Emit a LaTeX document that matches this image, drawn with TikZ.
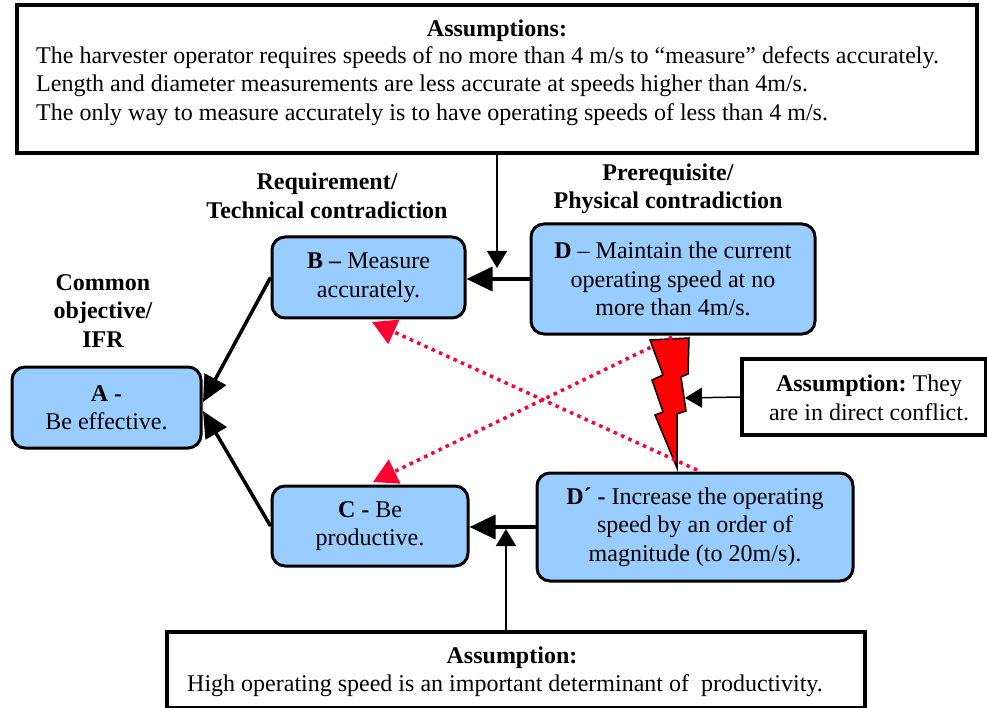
\documentclass[tikz,border=0pt]{standalone}
\usepackage{fontspec}
\setmainfont{Liberation Serif}
\usetikzlibrary{arrows.meta,calc}
\definecolor{boxblue}{HTML}{99CCFF}
\definecolor{dotred}{HTML}{FF0033}
\newcommand{\myfs}{\fontsize{24}{28.5}\selectfont}
\tikzset{
  cloud/.style={draw=black, line width=3pt, rounded corners=13pt, fill=boxblue, align=center, inner sep=0pt},
  plainbox/.style={draw=black, line width=3.5pt, fill=white, inner sep=0pt},
  lbl/.style={align=center, font=\myfs\bfseries, inner sep=0pt},
  bigarrow/.style={line width=3.5pt, -{Triangle[length=26pt,width=24pt]}},
  thinarrow/.style={line width=1.5pt, -{Triangle[length=17pt,width=20pt]}},
  dotarrow/.style={dotred, line width=3.5pt, dash pattern=on 3.5pt off 4.5pt, -{Triangle[length=24pt,width=26pt]}},
}
\begin{document}
\begin{tikzpicture}[x=1pt,y=-1pt, every node/.style={font=\myfs}]
\useasboundingbox (0,0) rectangle (987,708);
% top assumptions box
\node[plainbox, minimum width=960pt, minimum height=148pt] (top) at (497,79) {};
\node[inner sep=0pt, font=\myfs\bfseries] (toptitle) at (497,31) {Assumptions:};
\node[inner sep=0pt, anchor=west, align=left] (toptext) at (36,86) {The harvester operator requires speeds of no more than 4 m/s to “measure” defects accurately.\\Length and diameter measurements are less accurate at speeds higher than 4m/s.\\The only way to measure accurately is to have operating speeds of less than 4 m/s.};
% labels
\node[lbl] (lblA) at (103,311) {Common\\objective/\\IFR};
\node[lbl] (lblB) at (327,196) {Requirement/\\Technical contradiction};
\node[lbl] (lblD) at (668,189) {Prerequisite/\\Physical contradiction};
% cloud boxes
\node[cloud, minimum width=189pt, minimum height=81pt] (A) at (106.5,407.5) {\textbf{A -}\\Be effective.};
\node[cloud, minimum width=193pt, minimum height=81pt] (B) at (368.5,277.5) {\textbf{B –} Measure\\accurately.};
\node[cloud, minimum width=196pt, minimum height=80pt] (C) at (370,526) {\textbf{C -} Be\\productive.};
\node[cloud, minimum width=284pt, minimum height=110pt] (D) at (673,279) {\textbf{D} – Maintain the current\\operating speed at no\\more than 4m/s.};
\node[cloud, minimum width=316pt, minimum height=108pt] (Dp) at (695,527) {\textbf{D´ -} Increase the operating\\speed by an order of\\magnitude (to 20m/s).};
% right assumption box
\node[plainbox, minimum width=244pt, minimum height=76pt] (rbox) at (864,397) {};
\node[inner sep=0pt, align=center] (rtext) at (869,398) {\textbf{Assumption:}~They\\are in direct conflict.};
% bottom assumption box
\node[plainbox, minimum width=698pt, minimum height=76pt] (bot) at (516,670) {};
\node[inner sep=0pt, font=\myfs\bfseries] (bottitle) at (512,658) {Assumption:};
\node[inner sep=0pt, anchor=west] (bottext) at (187,686) {High operating speed is an important determinant of \ productivity.};
% lightning bolt
\filldraw[fill=red, draw=black, line width=1.5pt, line join=miter]
  (650,340) -- (689,338) -- (688,374) -- (681,377) -- (686,411) -- (677,414)
  -- (677,468) -- (655,415) -- (663,412) -- (652,380) -- (663,375) -- cycle;
% coordinates
\coordinate (tA1) at (203,402);
\coordinate (tA2) at (203,411);
\coordinate (tTop) at (497,268);
\coordinate (tBot) at (506,529);
\coordinate (bolt) at (685,398);
\coordinate (sDp) at (697,470);
\coordinate (eB) at (372,322);
\coordinate (sD) at (672,337);
\coordinate (eC) at (373,482);
% connectors
\draw[bigarrow] (B.west) -- (tA1);
\draw[bigarrow] (C.west) -- (tA2);
\draw[bigarrow] (D.west) -- (D.west -| B.east);
\draw[bigarrow] (Dp.west) -- (Dp.west -| C.east);
\draw[thinarrow] (top.south -| tTop) -- (tTop);
\draw[thinarrow] (bot.north -| tBot) -- (tBot);
\draw[thinarrow] (rbox.west) -- (bolt);
\draw[dotarrow] (sDp) -- (eB);
\draw[dotarrow] (sD) -- (eC);
\end{tikzpicture}
\end{document}
